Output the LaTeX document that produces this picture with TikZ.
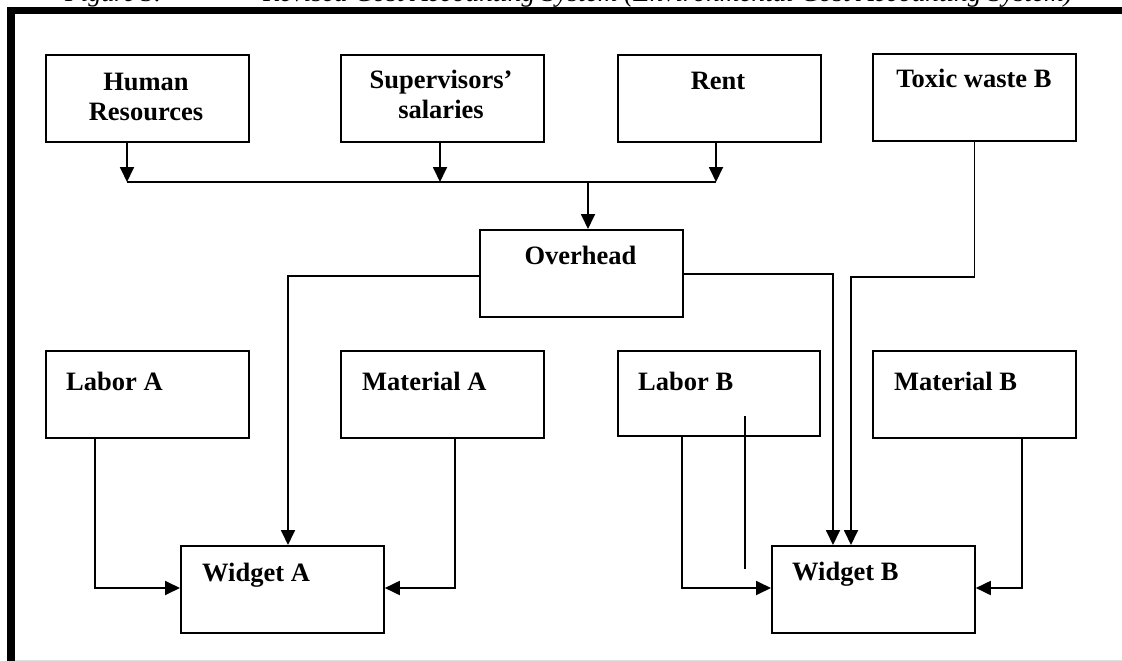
\documentclass[tikz,border=0pt]{standalone}
\usepackage{fontspec}
\setmainfont{Liberation Serif}
\usetikzlibrary{arrows.meta}
\tikzset{
  box/.style={draw, line width=1.8pt, minimum width=203pt, minimum height=87pt, inner sep=0pt, anchor=north west},
  lbl/.style={font=\fontsize{26.5}{30}\selectfont\bfseries, inner sep=0pt, align=center},
  captxt/.style={font=\fontsize{26}{30}\selectfont\itshape, inner sep=0pt, anchor=base west},
  conn/.style={line width=1.8pt},
  arr/.style={conn, -{Triangle[length=15pt,width=14pt]}}
}
\begin{document}
\begin{tikzpicture}[x=1pt,y=-1pt]
\useasboundingbox (0,0) rectangle (1122,661);
\clip (0,0) rectangle (1122,661);
% caption (cut off at top)
\node[captxt] (figno) at (65,1.5) {Figure 3.};
\node[captxt, font=\fontsize{27.2}{30}\selectfont\itshape] (title) at (263,1.5) {Revised Cost Accounting System (Environmental Cost Accounting System)};
% frame
\draw[line width=7pt] (7,10.5) -- (1122,10.5);
\draw[line width=8pt] (11,7) -- (11,661);
\draw[gray!25, line width=1pt] (15,660.5) -- (1122,660.5);
% boxes
\node[box] (hr) at (45,54) {};
\node[box] (sup) at (340,54) {};
\node[box] (rent) at (617,54) {};
\node[box] (toxic) at (872,53) {};
\node[box] (overhead) at (479,229) {};
\node[box] (laborA) at (45,350) {};
\node[box] (matA) at (340,350) {};
\node[box, minimum width=202pt, minimum height=85pt] (laborB) at (617,350) {};
\node[box] (matB) at (872,350) {};
\node[box] (widgetA) at (180,545) {};
\node[box] (widgetB) at (771,545) {};
% texts (base anchor of a two-line node = baseline of its last line)
\node[lbl, anchor=base] (hrT) at (146,120.5) {Human\\Resources};
\node[lbl, anchor=base] (supT) at (441,118) {Supervisors’\\salaries};
\node[lbl, anchor=base] (rentT) at (718,89) {Rent};
\node[lbl, anchor=base] (toxicT) at (974,88) {Toxic waste B};
\node[lbl, anchor=base] (overheadT) at (580.5,264) {Overhead};
\node[lbl, anchor=base west] (laborAT) at (66,390) {Labor A};
\node[lbl, anchor=base west] (matAT) at (362,390) {Material A};
\node[lbl, anchor=base west] (laborBT) at (638,390) {Labor B};
\node[lbl, anchor=base west] (matBT) at (894,390) {Material B};
\node[lbl, anchor=base west] (widgetAT) at (202,581) {Widget A};
\node[lbl, anchor=base west] (widgetBT) at (792,580) {Widget B};
% junction coordinates
\coordinate (busL) at (127,182);
\coordinate (busS) at (440,182);
\coordinate (busR) at (716,182);
\coordinate (busM) at (588,182);
\coordinate (ohL) at (288,276);
\coordinate (ohR) at (833,274);
\coordinate (txc) at (851,277);
\coordinate (la) at (95,588);
\coordinate (ma) at (455,588);
\coordinate (lb) at (682,588);
\coordinate (mb) at (1022,588);
\coordinate (strayTop) at (745,416);
\coordinate (strayBot) at (745,569);
% connectors
\draw[arr] (busL |- hr.south) -- (busL);
\draw[arr] (busS |- sup.south) -- (busS);
\draw[arr] (busR |- rent.south) -- (busR);
\draw[conn] (busL) -- (busR);
\draw[arr] (busM) -- (busM |- overhead.north);
\draw[arr] (overhead.west |- ohL) -- (ohL) -- (ohL |- widgetA.north);
\draw[arr] (overhead.east |- ohR) -- (ohR) -- (ohR |- widgetB.north);
\draw[arr] (toxic.south) -- (toxic.south |- txc) -- (txc) -- (txc |- widgetB.north);
\draw[arr] (la |- laborA.south) -- (la) -- (la -| widgetA.west);
\draw[arr] (ma |- matA.south) -- (ma) -- (ma -| widgetA.east);
\draw[arr] (lb |- laborB.south) -- (lb) -- (lb -| widgetB.west);
\draw[arr] (mb |- matB.south) -- (mb) -- (mb -| widgetB.east);
\draw[conn] (strayTop) -- (strayBot);
\end{tikzpicture}
\end{document}
